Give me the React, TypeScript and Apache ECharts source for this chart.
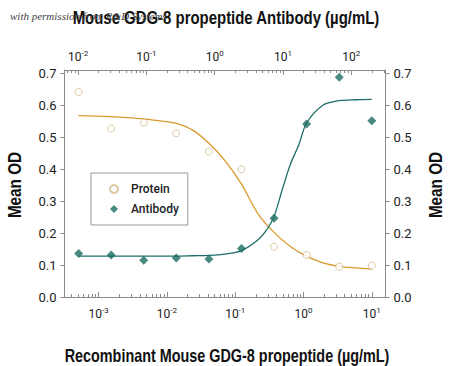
import React, { useEffect, useRef } from "react";
import * as echarts from "echarts";

// Recombinant Mouse GDG-8 propeptide concentration (µg/mL) — bottom axis
const proteinConc = [0.000508, 0.00152, 0.00457, 0.0137, 0.0412, 0.123, 0.37, 1.11, 3.33, 10];
const proteinOD = [0.641, 0.527, 0.545, 0.512, 0.455, 0.399, 0.157, 0.131, 0.095, 0.098];

// Mouse GDG-8 propeptide Antibody concentration (µg/mL) — top axis
const antibodyConc = [0.0102, 0.0305, 0.0914, 0.274, 0.823, 2.47, 7.41, 22.2, 66.7, 200];
const antibodyOD = [0.136, 0.131, 0.115, 0.122, 0.119, 0.152, 0.246, 0.541, 0.687, 0.551];

// fitted curves
const proteinFitConc = [
  0.000508, 0.00088, 0.001524, 0.00264, 0.004572, 0.00792, 0.01372, 0.02376, 0.04115, 0.07128,
  0.1235, 0.2138, 0.3704, 0.6415, 1.111, 1.925, 3.333, 5.774, 10,
];
const proteinFitOD = [
  0.567, 0.566, 0.564, 0.561, 0.557, 0.551, 0.543, 0.522, 0.481, 0.426,
  0.353, 0.261, 0.202, 0.158, 0.127, 0.107, 0.096, 0.091, 0.0875,
];

const antibodyFitConc = [
  0.01016, 0.0176, 0.03048, 0.0528, 0.09144, 0.1584, 0.2744, 0.4752, 0.823, 1.4256,
  2.47, 4.276, 5.73, 7.408, 9.89, 12.83, 17.12, 22.22, 38.5, 66.67, 115.5, 200,
];
const antibodyFitOD = [
  0.128, 0.128, 0.128, 0.128, 0.128, 0.128, 0.128, 0.129, 0.13, 0.134,
  0.145, 0.178, 0.209, 0.252, 0.34, 0.415, 0.477, 0.545, 0.6, 0.614, 0.617, 0.618,
];

// axes (log10 space)
const bottomMin = -3.5;
const bottomMax = 1.2;
const topOffset = Math.log10(20);
const bottomMajor = [-3, -2, -1, 0, 1];
const topMajor = [-2, -1, 0, 1, 2];
const yTicks = [0, 0.1, 0.2, 0.3, 0.4, 0.5, 0.6, 0.7];

const topTitle = "Mouse GDG-8 propeptide Antibody (µg/mL)";
const bottomTitle = "Recombinant Mouse GDG-8 propeptide (µg/mL)";
const yTitle = "Mean OD";
const watermark = "with permission from R&D Systems";

const FONT = "Roboto, 'Liberation Sans', sans-serif";
const TITLE_FONT = "bold 18px 'Liberation Sans', Arial, sans-serif";
const AXIS_COLOR = "#8a8a8a";

function minorTicks(min: number, max: number): number[] {
  const out: number[] = [];
  for (let d = Math.floor(min); d <= Math.ceil(max); d++) {
    for (let k = 2; k <= 9; k++) {
      const v = d + Math.log10(k);
      if (v >= min && v <= max) out.push(v);
    }
  }
  return out;
}

const pow10Label = (v: number) => `{b|10}{s|${Math.round(v)}}`;
const richPow = {
  b: { fontSize: 12, fontFamily: FONT, color: "#222" },
  s: { fontSize: 8, fontFamily: FONT, color: "#222", padding: [0, 0, 7, 0] },
};

export default function App() {
  const ref = useRef<HTMLDivElement>(null);
  useEffect(() => {
    if (!ref.current) return;
    const chart = echarts.init(ref.current, null, { renderer: "svg" });
    const topMin = bottomMin + topOffset;
    const topMax = bottomMax + topOffset;
    const lg = (arr: number[]) => arr.map((c) => Math.log10(c));
    const pair = (xs: number[], ys: number[]) => lg(xs).map((x, i) => [x, ys[i]]);

    const majorAxis = (position: string, min: number, max: number, ticks: number[], margin: number) => ({
      type: "value",
      position,
      min,
      max,
      axisLine: { show: true, onZero: false, lineStyle: { color: AXIS_COLOR, width: 1 } },
      axisTick: { show: true, inside: true, length: 5, customValues: ticks, lineStyle: { color: AXIS_COLOR } },
      axisLabel: { show: true, customValues: ticks, formatter: pow10Label, rich: richPow, margin },
      splitLine: { show: false },
    });
    const minorAxis = (position: string, min: number, max: number) => ({
      type: "value",
      position,
      min,
      max,
      axisLine: { show: false, onZero: false },
      axisTick: { show: true, inside: true, length: 3, customValues: minorTicks(min, max), lineStyle: { color: AXIS_COLOR } },
      axisLabel: { show: false },
      splitLine: { show: false },
    });
    const yAxis = (position: string) => ({
      type: "value",
      position,
      min: 0,
      max: 0.71,
      axisLine: { show: true, onZero: false, lineStyle: { color: AXIS_COLOR, width: 1 } },
      axisTick: { show: true, inside: false, length: 4, customValues: yTicks, lineStyle: { color: AXIS_COLOR } },
      axisLabel: {
        show: true,
        customValues: yTicks,
        formatter: (v: number) => v.toFixed(1),
        fontFamily: FONT,
        fontSize: 13,
        color: "#222",
        margin: 8,
      },
      splitLine: { show: false },
    });

    const title = (text: string, x: number, y: number, rot: number, sx: number) => ({
      type: "text",
      x,
      y,
      rotation: rot,
      scaleX: sx,
      z: 50,
      style: { text, font: TITLE_FONT, fill: "#111", align: "center", verticalAlign: "middle" },
    });

    chart.setOption({
      animation: false,
      backgroundColor: "#ffffff",
      grid: { left: 64.5, right: 64.5, top: 70, bottom: 69 },
      xAxis: [
        majorAxis("bottom", bottomMin, bottomMax, bottomMajor, 9),
        minorAxis("bottom", bottomMin, bottomMax),
        majorAxis("top", topMin, topMax, topMajor, 6),
        minorAxis("top", topMin, topMax),
      ],
      yAxis: [yAxis("left"), yAxis("right")],
      legend: {
        data: ["Protein", "Antibody"],
        orient: "vertical",
        left: 91,
        top: 173,
        itemWidth: 8,
        itemHeight: 8,
        itemGap: 8,
        padding: [10, 9, 10, 18],
        borderColor: "#999",
        borderWidth: 1,
        textStyle: { fontFamily: FONT, fontSize: 12, fontWeight: 500, color: "#222", padding: [0, 0, 0, 8] },
      },
      graphic: [
        title(topTitle, 226, 18, 0, 0.83),
        title(bottomTitle, 227, 355, 0, 0.8),
        title(yTitle, 15, 185, Math.PI / 2, 0.85),
        title(yTitle, 436, 185, Math.PI / 2, 0.85),
        {
          type: "text",
          left: 10,
          top: 10,
          z: 100,
          style: {
            text: watermark,
            font: "italic 11px 'Liberation Serif', serif",
            fill: "#444",
          },
        },
      ],
      series: [
        {
          name: "Protein fit",
          type: "line",
          xAxisIndex: 0,
          yAxisIndex: 0,
          data: pair(proteinFitConc, proteinFitOD),
          showSymbol: false,
          smooth: 0.3,
          lineStyle: { color: "#D9992C", width: 1.3 },
          silent: true,
        },
        {
          name: "Antibody fit",
          type: "line",
          xAxisIndex: 2,
          yAxisIndex: 0,
          data: pair(antibodyFitConc, antibodyFitOD),
          showSymbol: false,
          smooth: 0.3,
          lineStyle: { color: "#1E6E69", width: 1.3 },
          silent: true,
        },
        {
          name: "Protein",
          type: "scatter",
          xAxisIndex: 0,
          yAxisIndex: 0,
          data: pair(proteinConc, proteinOD),
          symbol: "circle",
          symbolSize: 7,
          itemStyle: { color: "#ffffff", borderColor: "#D6BC8C", borderWidth: 1 },
          z: 3,
        },
        {
          name: "Antibody",
          type: "scatter",
          xAxisIndex: 2,
          yAxisIndex: 0,
          data: pair(antibodyConc, antibodyOD),
          symbol: "diamond",
          symbolSize: 9,
          itemStyle: { color: "#1A6B60" },
          z: 3,
        },
      ],
    });
    return () => chart.dispose();
  }, []);
  return <div ref={ref} style={{ width: 450, height: 366, position: "absolute", left: 0, top: 0 }} />;
}
